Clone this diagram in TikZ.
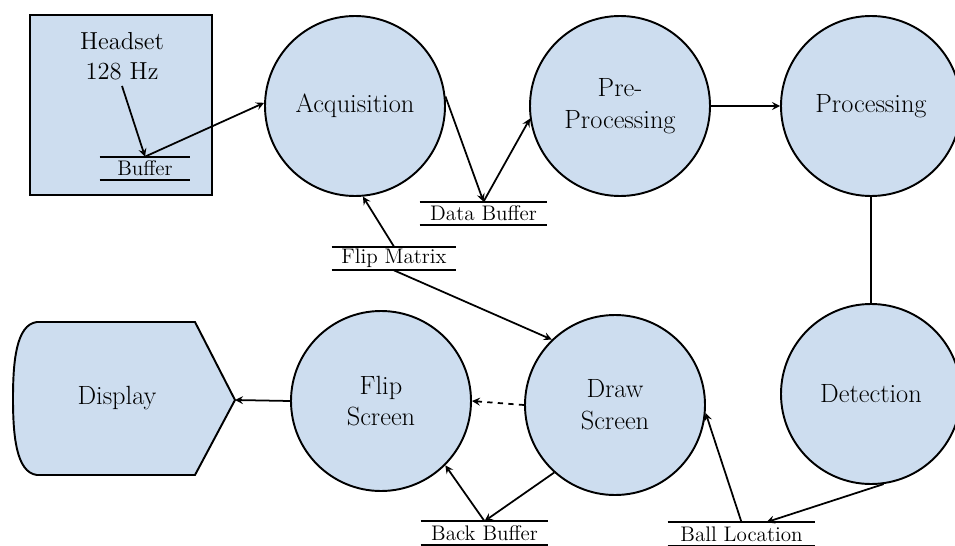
\documentclass[tikz,border=0pt]{standalone}
\usetikzlibrary{arrows.meta}
\definecolor{procblue}{RGB}{205,221,239}
\begin{document}
\begin{tikzpicture}[
    font=\fontsize{15}{18}\selectfont, >=stealth,
    proc/.style={circle, fill=procblue, draw, line width=1.1pt, minimum size=3.6cm, inner sep=0pt, align=center},
    store/.style={minimum height=0.46cm, inner sep=0pt, font=\large},
    flow/.style={->, line width=1pt}
  ]
    \useasboundingbox (0,0) rectangle (19.1,10.9);

    % --- HEADSET (placa con su buffer) ---
    \node[draw, line width=1.1pt, fill=procblue, minimum width=3.64cm, minimum height=3.6cm] (headset) at (2.42,8.8) {};
    \node[align=center, font=\fontsize{14}{17}\selectfont] (hz) at (2.44,9.78) {Headset\\128 Hz};
    \node[store, minimum width=1.8cm] (buf) at (2.9,7.53) {Buffer};

    % --- PROCESOS ---
    \node[proc] (acq) at (7.10,8.78) {Acquisition};
    \node[proc] (pre) at (12.40,8.78) {Pre-\\Processing};
    \node[proc] (proc) at (17.42,8.78) {Processing};
    \node[proc] (det) at (17.42,3.02) {Detection};
    \node[proc] (draw) at (12.30,2.80) {Draw\\Screen};
    \node[proc] (flip) at (7.62,2.88) {Flip\\Screen};

    % --- DISPLAY (lado izquierdo curvo, punta a la derecha) ---
    \fill[procblue] (0.74,4.46) -- (3.9,4.46) -- (4.7,2.9) -- (3.9,1.4) -- (0.74,1.4)
        .. controls (0.32,1.45) and (0.26,2.2) .. (0.26,2.93)
        .. controls (0.26,3.66) and (0.32,4.41) .. (0.74,4.46) -- cycle;
    \draw[line width=1.1pt] (0.74,4.46) -- (3.9,4.46) -- (4.7,2.9) -- (3.9,1.4) -- (0.74,1.4)
        .. controls (0.32,1.45) and (0.26,2.2) .. (0.26,2.93)
        .. controls (0.26,3.66) and (0.32,4.41) .. (0.74,4.46) -- cycle;
    \coordinate (disptip) at (4.7,2.9);
    \node (display) at (2.34,2.93) {Display};

    % --- ALMACENES (dos rayas) ---
    \node[store, minimum width=2.54cm] (databuf) at (9.67,6.63) {Data Buffer};
    \node[store, minimum width=2.48cm] (flipmat) at (7.88,5.73) {Flip Matrix};
    \node[store, minimum width=2.54cm] (backbuf) at (9.69,0.24) {Back Buffer};
    \node[store, minimum width=2.94cm] (ballloc) at (14.83,0.22) {Ball Location};
    \foreach \s in {buf, databuf, flipmat, backbuf, ballloc} {
        \draw[line width=1.1pt] (\s.north west) -- (\s.north east);
        \draw[line width=1.1pt] (\s.south west) -- (\s.south east);
    }

    % --- FLUJOS ---
    \draw[flow] (hz.south) -- (buf.north);
    \draw[flow] (buf.north) -- (acq.178);
    \draw[flow] (acq.6) -- (databuf.north);
    \draw[flow] (databuf.north) -- (pre.188);
    \draw[flow] (pre.east) -- (proc.west);
    \draw[line width=1pt] (proc.south) -- (det.north);
    \draw[flow] (det.-82) -- ([xshift=0.5cm]ballloc.north);
    \draw[flow] (ballloc.north) -- (draw.-5);
    \draw[flow] (draw.228) -- (backbuf.north);
    \draw[flow] (backbuf.north) -- (flip.-45);
    \draw[flow, dashed] (draw.west) -- (flip.east);
    \draw[flow] (flip.west) -- (disptip);
    \draw[flow] (flipmat.north) -- (acq.-85);
    \draw[flow] (flipmat.south) -- (draw.134);

\end{tikzpicture}
\end{document}
